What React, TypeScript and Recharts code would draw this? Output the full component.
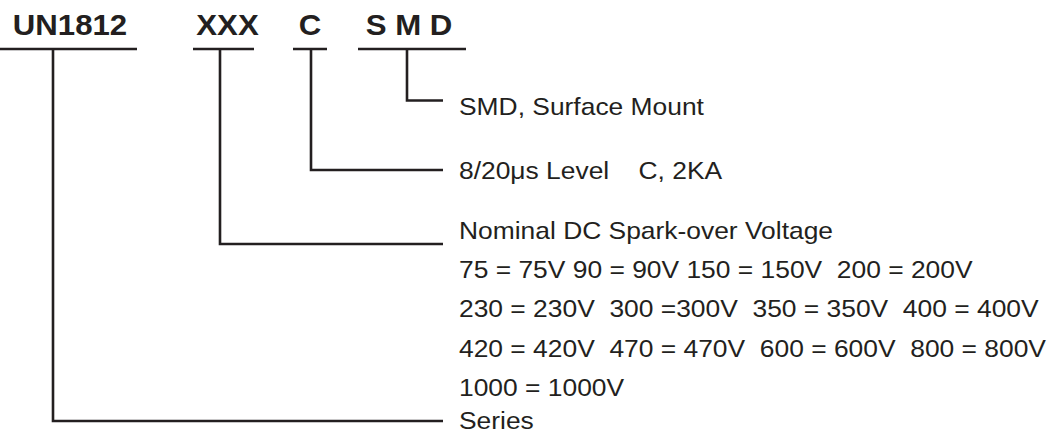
import React from 'react';
import {ScatterChart, Scatter, XAxis, YAxis} from 'recharts';

const W = 1053;
const H = 433;

// Part number segments, left to right, and what each one stands for
const codeSegments = ['UN1812', 'XXX', 'C', 'S M D'];
const segmentMeanings = ['Series', 'Nominal DC Spark-over Voltage', '8/20μs Level    C, 2KA', 'SMD, Surface Mount'];

// Voltage code table under "Nominal DC Spark-over Voltage"
const voltageRows = [
  '75 = 75V 90 = 90V 150 = 150V  200 = 200V',
  '230 = 230V  300 =300V  350 = 350V  400 = 400V',
  '420 = 420V  470 = 470V  600 = 600V  800 = 800V',
  '1000 = 1000V',
];

// Layout (pixel space of the chart)
const headerBaseline = 35;
const underlineY = 49;
const labelX = 459;
const elbowEndX = 443;
const segmentLayout = [
  {textX: 70, from: 0, to: 137, stemX: 53, elbowY: 421, meaningY: 429},
  {textX: 227.5, from: 193, to: 254, stemX: 220, elbowY: 244, meaningY: 239},
  {textX: 310, from: 293, to: 327, stemX: 311, elbowY: 170, meaningY: 178.5},
  {textX: 409, from: 358, to: 466, stemX: 407, elbowY: 100.5, meaningY: 115},
];
const voltageRowY = [277.5, 317, 356.5, 396];

const INK = '#231f20';
const FONT = '"Liberation Sans", Arial, Helvetica, sans-serif';

const headerPoints = codeSegments.map((text, i) => ({
  x: segmentLayout[i].textX,
  y: headerBaseline,
  text,
}));

const meaningPoints = [
  ...segmentMeanings.map((text, i) => ({x: labelX, y: segmentLayout[i].meaningY, text})),
  ...voltageRows.map((text, i) => ({x: labelX, y: voltageRowY[i], text})),
];

const HeaderLabel = (props: any) => (
  <text
    transform={`translate(${props.cx},${props.cy}) scale(1.04,1)`}
    textAnchor='middle'
    fontFamily={FONT}
    fontWeight='bold'
    fontSize={30}
    fill={INK}
    style={{whiteSpace: 'pre'}}
  >
    {props.payload.text}
  </text>
);

const BodyLabel = (props: any) => (
  <text
    transform={`translate(${props.cx},${props.cy}) scale(1.1,1)`}
    textAnchor='start'
    fontFamily={FONT}
    fontSize={24}
    fill={INK}
    style={{whiteSpace: 'pre'}}
  >
    {props.payload.text}
  </text>
);

const NoDot = () => <g />;

export default function App() {
  return (
    <div style={{position: 'absolute', left: 0, top: 0, width: W, height: H, background: '#fff'}}>
      <ScatterChart width={W} height={H} margin={{top: 0, right: 0, bottom: 0, left: 0}}>
        <XAxis type='number' dataKey='x' domain={[0, W]} hide allowDataOverflow />
        <YAxis type='number' dataKey='y' domain={[0, H]} reversed hide allowDataOverflow />

        {segmentLayout.map((s, i) => (
          <Scatter
            key={`under-${i}`}
            data={[
              {x: s.from, y: underlineY},
              {x: s.to, y: underlineY},
            ]}
            line={{stroke: INK, strokeWidth: 2.6}}
            lineType='joint'
            shape={NoDot}
            isAnimationActive={false}
          />
        ))}

        {segmentLayout.map((s, i) => (
          <Scatter
            key={`leader-${i}`}
            data={[
              {x: s.stemX, y: underlineY},
              {x: s.stemX, y: s.elbowY},
              {x: elbowEndX, y: s.elbowY},
            ]}
            line={{stroke: INK, strokeWidth: 2.6, strokeLinejoin: 'miter'}}
            lineType='joint'
            shape={NoDot}
            isAnimationActive={false}
          />
        ))}

        <Scatter data={headerPoints} shape={HeaderLabel} isAnimationActive={false} />
        <Scatter data={meaningPoints} shape={BodyLabel} isAnimationActive={false} />
      </ScatterChart>
    </div>
  );
}
